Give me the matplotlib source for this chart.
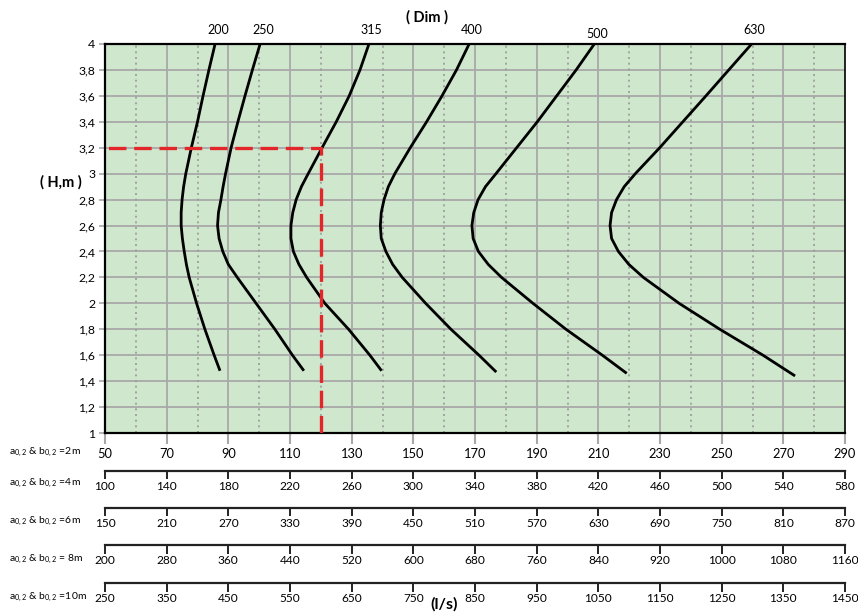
import matplotlib
matplotlib.use("Agg")
import matplotlib.pyplot as plt

FONT = "Lato"
plt.rcParams['font.family'] = [FONT, 'DejaVu Sans']
plt.rcParams['mathtext.fontset'] = 'custom'
plt.rcParams['mathtext.rm'] = FONT
plt.rcParams['mathtext.default'] = 'regular'

# ---- data ----
dims = ["200", "250", "315", "400", "500", "630"]
H_200 = [4.0, 3.8, 3.6, 3.4, 3.2, 3.0, 2.9, 2.8, 2.7, 2.6, 2.5, 2.4, 2.3, 2.2, 2.0, 1.8, 1.6, 1.48]
Q_200 = [85.7, 83.7, 81.8, 80.0, 78.0, 76.2, 75.5, 75.0, 74.7, 74.7, 75.1, 75.7, 76.4, 77.3, 79.7, 82.4, 85.4, 87.3]
H_250 = [4.0, 3.8, 3.6, 3.4, 3.2, 3.0, 2.9, 2.8, 2.7, 2.6, 2.5, 2.4, 2.3, 2.2, 2.0, 1.8, 1.6, 1.48]
Q_250 = [100.3, 97.8, 95.4, 93.1, 90.9, 89.1, 88.3, 87.6, 86.8, 86.5, 87.0, 88.2, 90.0, 92.9, 99.0, 105.1, 110.8, 114.5]
H_315 = [4.0, 3.8, 3.6, 3.4, 3.2, 3.0, 2.9, 2.8, 2.7, 2.6, 2.5, 2.4, 2.3, 2.2, 2.0, 1.8, 1.6, 1.48]
Q_315 = [135.6, 132.7, 129.2, 125.0, 120.4, 115.9, 113.7, 112.0, 110.9, 110.3, 110.3, 111.1, 112.9, 115.4, 121.3, 129.0, 135.9, 139.7]
H_400 = [4.0, 3.8, 3.6, 3.4, 3.2, 3.0, 2.9, 2.8, 2.7, 2.6, 2.5, 2.4, 2.3, 2.2, 2.0, 1.8, 1.6, 1.47]
Q_400 = [168.1, 164.0, 159.3, 154.3, 149.0, 144.0, 141.9, 140.5, 139.6, 139.3, 139.6, 141.1, 143.3, 146.4, 154.0, 162.2, 171.3, 176.9]
H_500 = [4.0, 3.8, 3.6, 3.4, 3.2, 3.0, 2.9, 2.8, 2.7, 2.6, 2.5, 2.4, 2.3, 2.2, 2.0, 1.8, 1.6, 1.46]
Q_500 = [208.7, 202.8, 196.5, 190.2, 183.5, 176.8, 173.4, 171.0, 169.6, 169.0, 169.4, 171.1, 174.3, 178.6, 188.8, 199.5, 211.3, 219.2]
H_630 = [4.0, 3.8, 3.6, 3.4, 3.2, 3.0, 2.9, 2.8, 2.7, 2.6, 2.5, 2.4, 2.3, 2.2, 2.0, 1.8, 1.6, 1.44]
Q_630 = [259.7, 252.3, 244.9, 237.4, 229.9, 222.0, 218.4, 215.9, 214.3, 213.8, 214.3, 216.5, 219.9, 224.6, 236.2, 249.4, 263.4, 273.8]

curves_Q = [Q_200, Q_250, Q_315, Q_400, Q_500, Q_630]
curves_H = [H_200, H_250, H_315, H_400, H_500, H_630]

example_Q = 120
example_H = 3.2

y_ticks = [1, 1.2, 1.4, 1.6, 1.8, 2, 2.2, 2.4, 2.6, 2.8, 3, 3.2, 3.4, 3.6, 3.8, 4]
y_labels = ["1", "1,2", "1,4", "1,6", "1,8", "2", "2,2", "2,4", "2,6", "2,8", "3",
            "3,2", "3,4", "3,6", "3,8", "4"]

row_names = [r"a$_{0,2}$ & b$_{0,2}$ =2m", r"a$_{0,2}$ & b$_{0,2}$ =4m",
             r"a$_{0,2}$ & b$_{0,2}$ =6m", r"a$_{0,2}$ & b$_{0,2}$ = 8m",
             r"a$_{0,2}$ & b$_{0,2}$ =10m"]
row_ticks_2m = [50, 70, 90, 110, 130, 150, 170, 190, 210, 230, 250, 270, 290]
row_ticks_4m = [100, 140, 180, 220, 260, 300, 340, 380, 420, 460, 500, 540, 580]
row_ticks_6m = [150, 210, 270, 330, 390, 450, 510, 570, 630, 690, 750, 810, 870]
row_ticks_8m = [200, 280, 360, 440, 520, 600, 680, 760, 840, 920, 1000, 1080, 1160]
row_ticks_10m = [250, 350, 450, 550, 650, 750, 850, 950, 1050, 1150, 1250, 1350, 1450]
minor_x = [60, 80, 100, 120, 140, 160, 180, 200, 220, 240, 260, 280]

# ---- figure ----
W, Hpx = 858, 612
fig = plt.figure(figsize=(W / 100, Hpx / 100), dpi=100)

L, R, T, B = 105, 845, 44, 433
ax = fig.add_axes([L / W, 1 - B / Hpx, (R - L) / W, (B - T) / Hpx])
ax.set_facecolor('#cfe8cd')
ax.set_xlim(50, 290)
ax.set_ylim(1, 4)

grid_c = '#a8a8a8'
for y in y_ticks[1:-1]:
    ax.axhline(y, color=grid_c, lw=1.3, zorder=1)
for x in row_ticks_2m[1:-1]:
    ax.axvline(x, color=grid_c, lw=1.3, zorder=1)
for x in minor_x:
    ax.axvline(x, color='#9a9a9a', lw=1.2, ls=(0, (1.2, 2.2)), zorder=1)

for q, h in zip(curves_Q, curves_H):
    ax.plot(q, h, color='black', lw=2.0, solid_capstyle='butt',
            solid_joinstyle='round', zorder=3)

# example reading (drawn from the bottom up, then to the left)
ax.plot([example_Q, example_Q, 50], [1, example_H, example_H], color='#e3262a',
        lw=2.4, ls=(0, (5.25, 2.33)), zorder=4)

# dimension labels above curves
for q, d in zip(curves_Q, dims):
    dy = 3 if d == "500" else 6
    ax.annotate(d, xy=(q[0], 4), xytext=(2, dy), textcoords='offset points',
                ha='center', va='bottom', fontsize=9, annotation_clip=False)

ax.set_yticks(y_ticks)
ax.set_yticklabels(y_labels, fontsize=8.8)
ax.set_xticks(row_ticks_2m)
ax.set_xticklabels([str(v) for v in row_ticks_2m], fontsize=9.3)
ax.tick_params(axis='y', color=grid_c, length=4, width=1.2, pad=3)
ax.tick_params(axis='x', color=grid_c, length=8, width=1.5, pad=3)
for s in ax.spines.values():
    s.set_color('black')
    s.set_linewidth(1.6)
ax.spines['right'].set_linewidth(1.2)

fig.text(427 / W, 1 - 17 / Hpx, "( Dim )", ha='center', va='center',
         fontsize=10.5, fontweight='bold')
fig.text(61 / W, 1 - 182 / Hpx, "( H,m )", ha='center', va='center',
         fontsize=10.5, fontweight='bold')
fig.text(444 / W, 1 - 604 / Hpx, "(l/s)", ha='center', va='center',
         fontsize=11.5, fontweight='bold')

# secondary scales
row_lists = [row_ticks_4m, row_ticks_6m, row_ticks_8m, row_ticks_10m]
row_line_y = [471, 508, 545.5, 583.5]
for ticks, ly in zip(row_lists, row_line_y):
    a = fig.add_axes([L / W, 1 - ly / Hpx, (R - L) / W, 0.0001])
    a.set_xlim(ticks[0], ticks[-1])
    a.patch.set_visible(False)
    a.set_yticks([])
    for k in ('left', 'right', 'bottom'):
        a.spines[k].set_visible(False)
    a.spines['top'].set_color('#222222')
    a.spines['top'].set_linewidth(1.6)
    a.xaxis.set_ticks_position('bottom')
    a.set_xticks(ticks)
    a.set_xticklabels([str(v) for v in ticks], fontsize=8.6)
    a.tick_params(axis='x', length=6, width=1.4, color='#222222', pad=1)

row_label_y = [452, 483, 521, 559, 597]
for name, ty in zip(row_names, row_label_y):
    fig.text(9 / W, 1 - ty / Hpx, name, ha='left', va='center', fontsize=7.5)

fig.savefig("out.png", dpi=100)
